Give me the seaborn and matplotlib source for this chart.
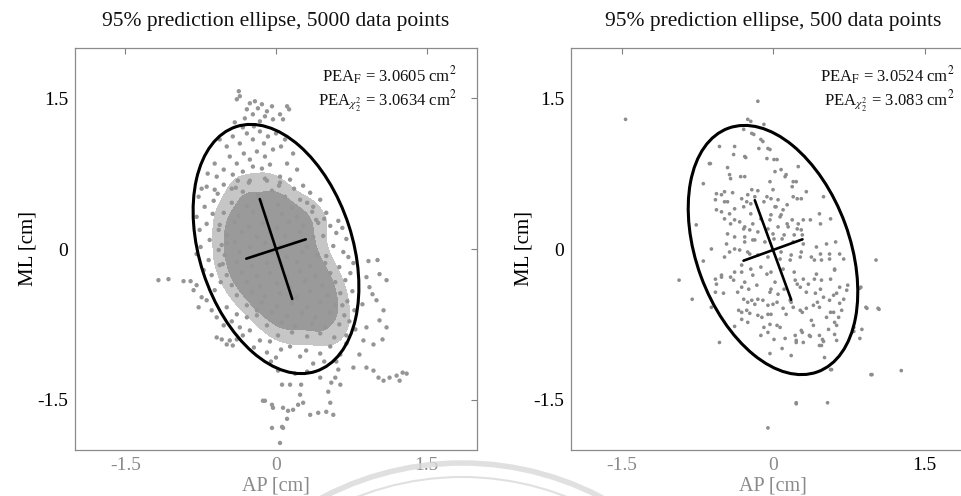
import numpy as np
import pandas as pd
import matplotlib
matplotlib.use("Agg")
import matplotlib.pyplot as plt
from matplotlib.colors import ListedColormap
import seaborn as sns
from matplotlib.patches import Ellipse, Arc

# ---------------- data (AP, ML) in cm ----------------
titles = ["95% prediction ellipse, 5000 data points",
          "95% prediction ellipse, 500 data points"]
pea_f = ["3.0605", "3.0524"]
pea_chi = ["3.0634", "3.083"]
tick_values = [-1.5, 0, 1.5]
tick_labels = ["-1.5", "0", "1.5"]

# 95% ellipse parameters: centre, semi-axes, orientation (deg)
ell_center = [(0.0, 0.0), (0.0, -0.01)]
ell_semi_major = [1.28, 1.29]
ell_semi_minor = [0.761, 0.76]
ell_angle = [108, 110]
chi2_scale = 2.4477  # sqrt(chi2_0.95, 2 dof)

# left panel: dense core of the 5000-point cloud
left_core = [
    (-0.26, 0.68), (-0.11, 0.70), (0.04, 0.66), (-0.40, 0.61),
    (-0.33, 0.57), (-0.18, 0.54), (-0.04, 0.58), (0.09, 0.52),
    (-0.44, 0.46), (-0.29, 0.43), (-0.14, 0.47), (0.02, 0.44), (0.16, 0.41), (0.31, 0.46),
    (-0.52, 0.36), (-0.37, 0.33), (-0.23, 0.37), (-0.09, 0.31), (0.06, 0.35), (0.21, 0.32), (0.36, 0.37), (0.48, 0.30),
    (-0.56, 0.24), (-0.41, 0.27), (-0.27, 0.22), (-0.13, 0.26), (0.01, 0.21), (0.13, 0.27), (0.27, 0.23), (0.42, 0.26),
    (-0.49, 0.14), (-0.34, 0.17), (-0.19, 0.12), (-0.06, 0.16), (0.09, 0.13), (0.24, 0.17), (0.37, 0.12),
    (-0.54, 0.04), (-0.41, 0.07), (-0.26, 0.02), (-0.11, 0.06), (0.04, 0.03), (0.19, 0.07), (0.31, 0.02),
    (-0.51, -0.06), (-0.36, -0.03), (-0.21, -0.07), (-0.04, -0.04), (0.11, -0.08), (0.26, -0.03), (0.41, -0.06),
    (-0.56, -0.16), (-0.39, -0.13), (-0.24, -0.17), (-0.09, -0.14), (0.06, -0.18), (0.21, -0.13), (0.34, -0.17), (0.49, -0.14),
    (-0.49, -0.26), (-0.34, -0.23), (-0.19, -0.27), (-0.06, -0.24), (0.11, -0.28), (0.24, -0.22), (0.39, -0.27), (0.54, -0.24),
    (-0.44, -0.36), (-0.29, -0.33), (-0.16, -0.37), (0.01, -0.34), (0.14, -0.38), (0.29, -0.32), (0.46, -0.36), (0.59, -0.33),
    (-0.39, -0.46), (-0.24, -0.43), (-0.11, -0.47), (0.04, -0.44), (0.21, -0.48), (0.34, -0.42), (0.51, -0.46), (0.64, -0.44),
    (-0.29, -0.56), (-0.14, -0.53), (0.01, -0.57), (0.16, -0.54), (0.31, -0.58), (0.44, -0.53), (0.59, -0.56),
    (-0.19, -0.66), (-0.04, -0.63), (0.11, -0.67), (0.26, -0.64), (0.39, -0.68), (0.54, -0.63), (0.68, -0.66),
    (-0.09, -0.76), (0.06, -0.73), (0.19, -0.77), (0.36, -0.74), (0.49, -0.78), (0.63, -0.75),
    (0.02, -0.86), (0.16, -0.83), (0.31, -0.87), (0.44, -0.84), (0.58, -0.88),
]

# left panel: scattered points around the core
left_outer = [
    (-0.37, 1.57), (-0.39, 1.49), (-0.36, 1.52), (-0.26, 1.45), (-0.21, 1.47), (-0.18, 1.40), (-0.14, 1.44),
    (-0.09, 1.37), (-0.04, 1.42), (-0.11, 1.32), (-0.23, 1.34), (-0.29, 1.39), (-0.03, 1.29), (-0.41, 1.26),
    (0.11, 1.42), (0.13, 1.39), (0.07, 1.29), (0.04, 1.34), (-0.16, 1.27), (-0.31, 1.30),
    (-0.56, 1.09), (-0.49, 1.02), (-0.43, 1.12), (-0.36, 1.05), (-0.29, 1.15), (-0.23, 1.09), (-0.16, 1.17),
    (-0.08, 1.12), (0.00, 1.15), (0.09, 1.09), (-0.46, 0.92), (-0.39, 0.85), (-0.32, 0.95), (-0.26, 0.89),
    (-0.19, 0.97), (-0.11, 0.92), (-0.03, 0.99), (0.17, 0.95), (0.11, 0.85), (-0.61, 0.85), (-0.68, 0.75),
    (-0.59, 0.72), (-0.52, 0.79), (-0.43, 0.74), (-0.33, 0.77), (-0.23, 0.82), (-0.14, 0.80), (-0.06, 0.84),
    (0.21, 0.79), (0.14, 0.69), (0.04, 0.72), (-0.69, 0.62), (-0.61, 0.59), (-0.52, 0.64), (-0.44, 0.60),
    (0.27, 0.63), (0.34, 0.56), (0.24, 0.49), (0.37, 0.42), (0.44, 0.49), (-0.33, 1.21), (-0.22, 1.22),
    (-0.12, 1.05), (0.05, 1.02), (-0.38, 0.68), (-0.27, 0.66), (-0.09, 0.68), (0.03, 0.63), (0.18, 0.60),
    (-0.77, 0.52), (-0.71, 0.42), (-0.79, 0.32), (-0.69, 0.25), (-0.76, 0.19), (-0.63, 0.35), (-0.57, 0.19),
    (-0.66, 0.09), (-0.75, 0.02), (-0.79, -0.05), (-0.57, -0.01), (-0.49, 0.06), (-0.67, -0.11), (-0.53, -0.15),
    (-0.62, 0.48), (-0.72, -0.21), (-0.64, -0.26), (-0.58, 0.55), (-0.74, 0.60),
    (0.50, 0.36), (0.40, 0.29), (0.54, 0.23), (0.47, 0.13), (0.60, 0.16), (0.57, 0.03), (0.67, -0.03),
    (0.50, -0.07), (0.70, 0.10), (0.77, -0.14), (1.01, -0.11), (0.62, 0.28), (0.66, 0.21), (0.72, -0.08),
    (0.63, -0.18), (0.74, -0.24), (0.69, -0.31), (0.76, -0.42), (0.71, -0.52), (0.78, -0.61), (0.66, -0.56),
    (0.73, -0.72), (0.79, -0.80), (0.70, -0.86),
    (-1.17, -0.31), (-1.07, -0.30), (-0.92, -0.32), (-0.85, -0.32), (-0.79, -0.36), (-0.82, -0.41),
    (-0.74, -0.48), (-0.77, -0.58), (-0.69, -0.51), (-0.64, -0.61), (-0.59, -0.88), (-0.54, -0.90),
    (-0.49, -0.95), (-0.43, -0.96), (-0.46, -0.91), (-0.39, -0.90), (-0.36, -0.78), (-0.26, -0.81),
    (-0.16, -0.91), (-0.09, -1.03), (-0.59, -0.68), (-0.49, -0.58), (-0.39, -0.65), (-0.29, -0.68),
    (-0.19, -0.61), (-0.61, -0.41), (-0.55, -0.33), (-0.52, -0.76), (-0.44, -0.72), (-0.33, -0.86),
    (-0.22, -0.98), (-0.06, -0.92),
    (-0.13, -1.51), (-0.04, -1.55), (-0.04, -1.78), (0.06, -1.35), (0.14, -1.35), (0.25, -1.35), (0.24, -1.45),
    (0.27, -1.53), (0.22, -1.55), (0.17, -1.60), (0.12, -1.61), (0.07, -1.58), (0.11, -1.69), (0.06, -1.77),
    (0.04, -1.93), (0.07, -1.78), (-0.11, -1.51), (-0.03, -1.58), (0.34, -1.65), (0.42, -1.63), (0.50, -1.62),
    (0.57, -1.65), (0.54, -1.53), (0.52, -1.42), (0.55, -1.33), (0.64, -1.35), (0.59, -1.28), (0.62, -1.20),
    (0.77, -1.18), (0.90, -1.18), (0.97, -1.21), (1.02, -1.28), (1.07, -1.31), (1.13, -1.28), (1.20, -1.26),
    (1.26, -1.23), (1.23, -1.31), (1.30, -1.24), (0.44, -1.28), (0.31, -1.22), (0.19, -1.24), (0.02, -1.21),
    (-0.05, -1.12),
    (0.90, -0.28), (0.93, -0.38), (1.03, -0.25), (1.10, -0.31), (1.00, -0.51), (1.07, -0.61), (1.03, -0.71),
    (1.10, -0.78), (0.90, -0.78), (0.87, -0.91), (0.83, -1.05), (0.86, -0.55), (0.96, -0.45), (0.97, -0.95),
    (0.92, -0.12), (1.06, -0.90),
    (0.37, -1.14), (0.24, -1.07), (0.30, -1.01), (0.44, -1.04), (0.54, -0.97), (0.14, -0.97), (0.70, -0.94),
    (0.64, -1.05), (0.05, -1.00), (0.48, -1.12), (0.60, -1.12), (0.00, -1.08),
]

# right panel: the 500-point sample
right_points = [
    (-1.46, 1.29), (-0.15, 1.47), (-0.25, 1.29), (-0.22, 1.27), (-0.09, 1.24), (-0.93, -0.31), (-0.80, -0.50),
    (1.02, -0.11), (0.87, -0.38), (0.92, -0.58), (1.05, -0.60), (0.80, -0.78), (0.97, -1.25), (1.27, -1.21),
    (0.57, -1.20), (0.23, -1.53), (0.54, -1.53), (-0.05, -1.78), (-0.53, -0.93), (-0.61, -0.58), (-0.61, 0.00),
    (-0.76, 0.24), (-0.69, 0.65), (-0.63, 0.85),
    (-0.53, 1.02), (-0.38, 1.02), (-0.27, 0.91), (-0.45, 0.81), (-0.32, 0.72), (-0.39, 0.94), (-0.14, 1.00),
    (-0.12, 1.09), (-0.05, 1.00), (-0.19, 1.14), (-0.29, 1.19), (0.08, 0.79), (0.13, 0.74), (0.23, 0.67),
    (0.01, 0.89), (0.24, 0.50), (0.33, 0.57), (0.50, 0.52), (0.46, 0.35), (0.57, 0.30), (0.62, 0.07),
    (0.70, -0.10), (0.74, -0.36), (0.57, -0.30), (0.41, -0.11), (0.48, -0.11), (0.56, -0.10), (0.61, -0.20),
    (-0.21, 1.15), (-0.28, 0.92), (-0.62, 0.85), (-0.43, 0.74), (-0.42, 0.70), (-0.28, 0.72), (-0.56, 0.55),
    (-0.51, 0.54), (-0.48, 0.57), (-0.40, 0.56), (-0.57, 0.49), (-0.48, 0.47), (-0.56, 0.39), (-0.51, 0.37),
    (-0.43, 0.35), (-0.31, 0.50), (-0.26, 0.47), (-0.29, 0.42), (-0.21, 0.59), (-0.18, 0.52), (-0.22, 0.35),
    (-0.48, 0.30), (-0.42, 0.25), (-0.38, 0.29), (-0.33, 0.27), (-0.28, 0.22), (-0.23, 0.19), (-0.45, 0.15),
    (-0.38, 0.12), (-0.28, 0.12), (-0.20, 0.09), (-0.46, 0.05), (-0.43, -0.03), (-0.33, -0.01), (-0.23, -0.05),
    (-0.48, -0.08), (-0.69, -0.12),
    (-0.10, 1.07), (-0.03, 0.99), (-0.06, 0.90), (0.04, 0.89), (0.02, 0.77), (0.12, 0.72), (0.20, 0.67),
    (0.25, 0.82), (0.19, 0.62), (-0.03, 0.67), (0.00, 0.59), (-0.06, 0.52), (0.05, 0.49), (0.02, 0.42),
    (0.10, 0.39), (0.14, 0.44), (0.20, 0.52), (0.28, 0.50), (0.37, 0.29), (0.30, 0.29), (0.25, 0.25),
    (0.19, 0.29), (0.15, 0.22), (0.07, 0.32), (-0.03, 0.29), (0.28, 0.19), (0.47, 0.25), (0.00, 0.15),
    (0.09, 0.10), (0.20, 0.07), (0.30, 0.05), (0.43, 0.02), (0.53, 0.05), (0.56, -0.05), (0.47, -0.05),
    (0.27, -0.08), (0.17, -0.11), (0.07, -0.10), (0.66, -0.05),
    (-0.57, -0.30), (-0.56, -0.35), (-0.51, -0.26), (-0.42, -0.28), (-0.39, -0.31), (-0.57, -0.43),
    (-0.49, -0.44), (-0.38, -0.77), (-0.31, -0.38), (-0.24, -0.40), (-0.29, -0.50), (-0.21, -0.51),
    (-0.34, -0.61), (-0.26, -0.61), (-0.23, -0.64), (-0.31, -0.70), (-0.18, -0.55), (-0.20, -0.26),
    (-0.31, -0.23),
    (-0.06, -0.25), (0.02, -0.33), (-0.03, -0.43), (0.05, -0.45), (-0.10, -0.51), (0.00, -0.55), (-0.05, -0.65),
    (-0.11, -0.68), (-0.03, -0.75), (0.07, -0.78), (-0.05, -0.83), (0.12, -0.89), (0.23, -0.93), (0.30, -0.93),
    (0.22, -0.86), (0.37, -0.87), (0.28, -0.81), (0.40, -0.76), (0.46, -0.96), (0.50, -0.92), (0.46, -0.86),
    (0.55, -0.80), (0.63, -0.76), (0.61, -0.85), (0.63, -0.91), (0.51, -1.08), (0.58, -1.20), (0.22, -0.31),
    (0.27, -0.38), (0.30, -0.30), (0.35, -0.35), (0.43, -0.25), (0.48, -0.31), (0.42, -0.44), (0.50, -0.48),
    (0.56, -0.51), (0.63, -0.44), (0.66, -0.38), (0.73, -0.41), (0.61, -0.21), (0.66, -0.54), (0.68, -0.61),
    (0.60, -0.63), (0.40, -0.56), (0.46, -0.58), (0.33, -0.59), (0.27, -0.61), (0.20, -0.58), (0.17, -0.51),
    (0.10, -0.59), (0.38, -0.71), (0.53, -0.68), (0.65, -0.68), (0.86, -0.39), (0.93, -0.59), (1.04, -0.59),
    (0.88, -0.80), (0.86, -0.89), (0.80, -0.82), (0.98, -1.25), (0.23, -1.54),
    (-0.45, 0.47), (-0.38, 0.40), (-0.25, 0.54), (-0.22, 0.45), (-0.15, 0.58), (-0.09, 0.47), (-0.02, 0.50),
    (0.03, 0.42), (0.08, 0.34), (-0.02, 0.34), (-0.12, 0.30), (-0.20, 0.25), (-0.29, 0.20), (-0.15, 0.17),
    (-0.05, 0.20), (0.05, 0.22), (0.14, 0.25), (0.24, 0.20), (0.29, 0.14), (0.21, 0.14), (0.11, 0.14),
    (0.01, 0.10), (-0.08, 0.07), (-0.18, 0.09), (-0.28, 0.07), (-0.38, 0.00), (-0.25, -0.03), (-0.15, -0.06),
    (-0.05, -0.08), (0.08, -0.03), (0.18, -0.06), (0.28, -0.03), (0.38, -0.08), (-0.31, -0.16), (-0.22, -0.20),
    (-0.12, -0.18), (-0.02, -0.23), (0.10, -0.20), (0.21, -0.23), (-0.38, -0.23), (-0.51, -0.28), (-0.28, -0.33),
    (-0.16, -0.36), (-0.02, -0.40), (0.11, -0.40), (0.24, -0.35), (0.33, -0.43), (-0.35, -0.43), (-0.25, -0.53),
    (-0.15, -0.50), (-0.05, -0.56), (0.04, -0.53), (0.18, -0.53), (-0.31, -0.63), (-0.15, -0.66), (-0.02, -0.65),
    (0.13, -0.65), (0.29, -0.63), (-0.25, -0.73), (-0.09, -0.78), (0.04, -0.76), (-0.12, -0.86), (0.01, -0.90),
    (0.09, -0.99), (0.23, -0.91), (0.36, -0.86), (0.48, -0.96), (0.49, -0.90), (0.61, -0.73), (0.70, -0.50),
    (0.60, -0.46), (0.47, -0.40), (0.41, -0.30), (0.44, -0.53), (0.57, -0.63), (-0.03, -1.04), (0.18, -1.06),
    (0.29, -0.83),
]

# ---------------- styling ----------------
sns.set_style("white")
plt.rcParams["font.family"] = ["Liberation Serif", "DejaVu Serif"]
plt.rcParams["mathtext.fontset"] = "stix"

W, H = 962, 496
fig = plt.figure(figsize=(W / 100, H / 100), dpi=100)
ax_l = fig.add_axes([75 / W, 46 / H, 402 / W, 402 / H])
ax_r = fig.add_axes([571 / W, 46 / H, 404 / W, 402 / H])

point_col = "#959595"
core_col = "#9a9a9a"
halo_col = "#c6c6c6"

# left: the dense 5000-point cloud rendered as filled density bands + points
core_df = pd.DataFrame({"AP": [p[0] for p in left_core], "ML": [p[1] for p in left_core]})
sns.kdeplot(data=core_df, x="AP", y="ML", ax=ax_l, fill=True, levels=[0.12, 1.0],
            cmap=ListedColormap([halo_col, halo_col]), bw_adjust=0.8, zorder=1)
sns.kdeplot(data=core_df, x="AP", y="ML", ax=ax_l, fill=True, levels=[0.33, 1.0],
            cmap=ListedColormap([core_col, core_col]), bw_adjust=0.8, zorder=1.5)
all_left = left_core + left_outer
left_df = pd.DataFrame({"AP": [p[0] for p in all_left], "ML": [p[1] for p in all_left]})
sns.scatterplot(data=left_df, x="AP", y="ML", ax=ax_l,
                s=10, color=point_col, edgecolor="none", linewidth=0, zorder=2)

right_df = pd.DataFrame({"AP": [p[0] for p in right_points], "ML": [p[1] for p in right_points]})
sns.scatterplot(data=right_df, x="AP", y="ML", ax=ax_r,
                s=7, color="#8c8c8c", edgecolor="none", linewidth=0, zorder=2)

for i, ax in enumerate([ax_l, ax_r]):
    cx, cy = ell_center[i]
    a, b, th = ell_semi_major[i], ell_semi_minor[i], np.deg2rad(ell_angle[i])
    ax.add_patch(Ellipse((cx, cy), 2 * a, 2 * b, angle=ell_angle[i], fill=False,
                         edgecolor="black", linewidth=2.2, zorder=4))
    sa, sb = a / chi2_scale, b / chi2_scale
    ax.plot([cx - sa * np.cos(th), cx + sa * np.cos(th)],
            [cy - sa * np.sin(th), cy + sa * np.sin(th)], color="black", lw=1.9, zorder=5)
    ax.plot([cx + sb * np.sin(th), cx - sb * np.sin(th)],
            [cy - sb * np.cos(th), cy + sb * np.cos(th)], color="black", lw=1.9, zorder=5)

    ax.set_xlim(-2, 2)
    ax.set_ylim(-2, 2)
    ax.set_xticks(tick_values)
    ax.set_yticks(tick_values)
    ax.set_xticklabels(tick_labels)
    ax.set_yticklabels(tick_labels)
    ax.tick_params(direction="in", length=4, width=0.8, color="#808080",
                   top=True, right=True, labelsize=14, pad=5)
    for lab in ax.get_yticklabels():
        lab.set_color("#000000")
    for lab in ax.get_xticklabels():
        lab.set_color("#8a8a8a")
    for sp in ax.spines.values():
        sp.set_color("#8a8a8a")
        sp.set_linewidth(0.9)
    ax.set_xlabel("AP [cm]", fontsize=14.5, color="#8a8a8a", labelpad=1.5)
    ax.set_ylabel("ML [cm]", fontsize=15, color="#000000", labelpad=0)
    ax.set_title(titles[i], fontsize=15.5, color="#111111", pad=16)
    ax.text(1.80, 1.72, r"PEA$_{\mathrm{F}}$ = " + pea_f[i] + r" cm$^{2}$", ha="right", va="center",
            fontsize=12, color="#111111")
    ax.text(1.80, 1.47, r"PEA$_{\chi^2_2}$ = " + pea_chi[i] + r" cm$^{2}$", ha="right", va="center",
            fontsize=12, color="#111111")

ax_r.get_xticklabels()[2].set_color("#000000")

# faint watermark arcs at the bottom
for r, lw in [(300, 4.0), (286, 1.5)]:
    fig.add_artist(Arc((462 / W, -267 / H), 2 * r / W, 2 * r / H, theta1=45, theta2=135,
                       transform=fig.transFigure, color="#d9d9d9", lw=lw, alpha=0.8, zorder=10))

fig.savefig("out.png", dpi=100, facecolor="white")
